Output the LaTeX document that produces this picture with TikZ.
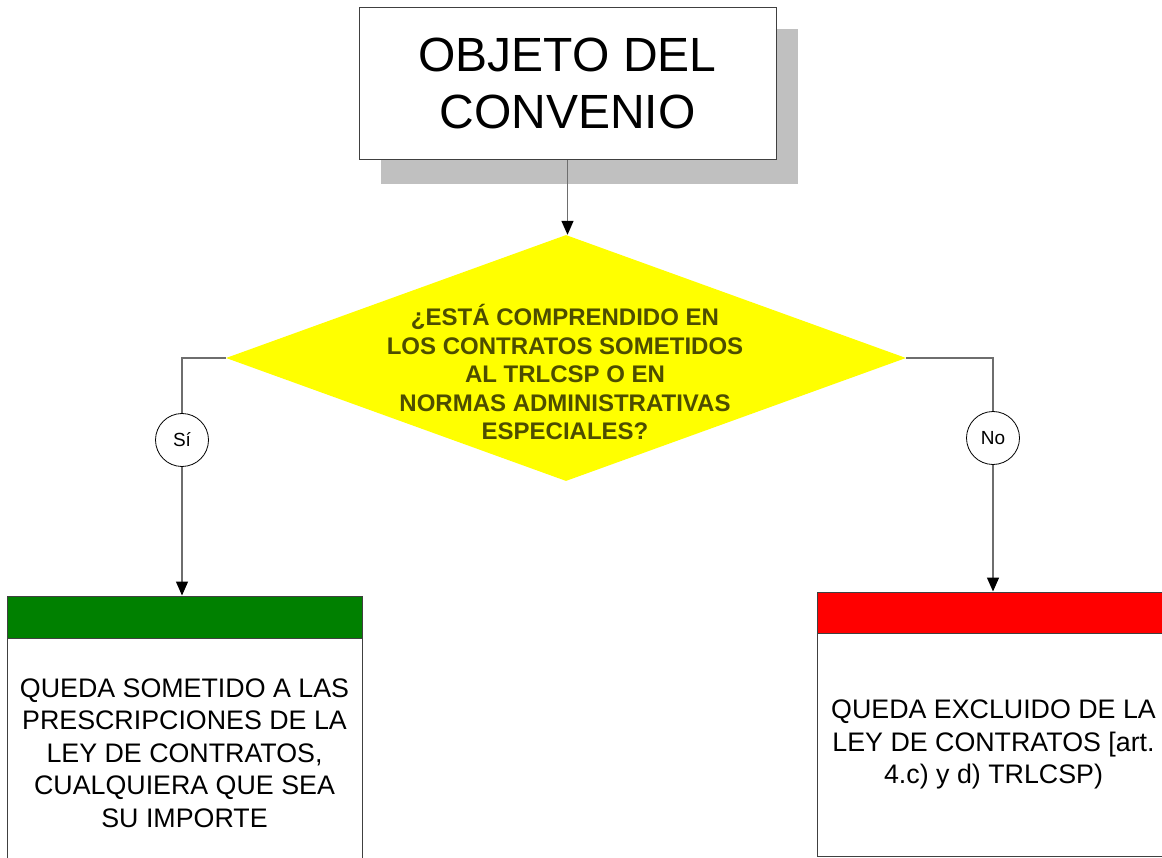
\documentclass[tikz,border=0pt]{standalone}
\usepackage{fontspec}
\setmainfont{Liberation Sans}
\usetikzlibrary{shapes.geometric,arrows.meta}
\definecolor{shadowgray}{HTML}{C0C0C0}
\definecolor{linegray}{HTML}{6E6E6E}
\definecolor{boxgray}{HTML}{404040}
\definecolor{diayellow}{HTML}{FFFF00}
\definecolor{diatext}{HTML}{4D4D00}
\definecolor{hdgreen}{HTML}{008000}
\definecolor{hdred}{HTML}{FF0000}
\tikzset{
  shadowbox/.style={rectangle, fill=shadowgray, draw=none, inner sep=0pt, minimum width=417pt, minimum height=155pt},
  topbox/.style={rectangle, fill=white, draw=boxgray, line width=1pt, inner sep=0pt, minimum width=417pt, minimum height=152pt, align=center, font=\fontsize{48}{57}\selectfont},
  decision/.style={diamond, fill=diayellow, draw=none, inner sep=0pt, minimum width=680pt, minimum height=246pt},
  qtext/.style={align=center, text=diatext, font=\bfseries\fontsize{24}{28.5}\selectfont},
  answer/.style={circle, draw=black, fill=white, line width=0.8pt, minimum size=53pt, inner sep=0pt, font=\fontsize{19}{22}\selectfont},
  header/.style={rectangle, draw=boxgray, line width=1pt, inner sep=0pt},
  bodybox/.style={rectangle, draw=boxgray, fill=white, line width=1pt, inner sep=0pt, align=center, font=\fontsize{26.8}{32.5}\selectfont},
  conn/.style={draw=linegray, line width=1.4pt},
  arr/.style={conn, -{Triangle[length=14pt,width=12pt,black]}}
}
\begin{document}
\begin{tikzpicture}[x=1pt,y=-1pt]
\useasboundingbox (0,0) rectangle (1162,858);
\clip (0,0) rectangle (1162,858);
\node[shadowbox] (shadow) at (589.5,106.5) {};
\node[topbox] (top) at (567.5,83.5) {OBJETO DEL\\CONVENIO};
\node[decision] (dia) at (566,358) {};
\node[qtext] (q) at (565,372) {¿ESTÁ COMPRENDIDO EN\\LOS CONTRATOS SOMETIDOS\\AL TRLCSP O EN\\NORMAS ADMINISTRATIVAS\\ESPECIALES?};
\node[answer] (si) at (182,440) {Sí};
\node[answer] (no) at (993,438) {No};
% left result
\node[header, fill=hdgreen, minimum width=355pt, minimum height=42pt] (gh) at (184.5,617) {};
\node[bodybox, minimum width=355pt, minimum height=230pt] (gb) at (184.5,753) {QUEDA SOMETIDO A LAS\\PRESCRIPCIONES DE LA\\LEY DE CONTRATOS,\\CUALQUIERA QUE SEA\\SU IMPORTE};
\node[header, fill=hdgreen, minimum width=355pt, minimum height=42pt] at (gh.center) {};
% right result
\node[header, fill=hdred, minimum width=353pt, minimum height=41pt] (rh) at (993.5,612.5) {};
\node[bodybox, minimum width=353pt, minimum height=223pt] (rb) at (993.5,744.5) {QUEDA EXCLUIDO DE LA\\LEY DE CONTRATOS [art.\\4.c) y d) TRLCSP)};
% connectors
\draw[arr] (top.south) -- (top.south |- dia.north);
\draw[conn] (dia.west) -| (si.north);
\draw[arr] (si.south) -- (si.south |- gh.north);
\draw[conn] (dia.east) -| (no.north);
\draw[arr] (no.south) -- (no.south |- rh.north);
\end{tikzpicture}
\end{document}
